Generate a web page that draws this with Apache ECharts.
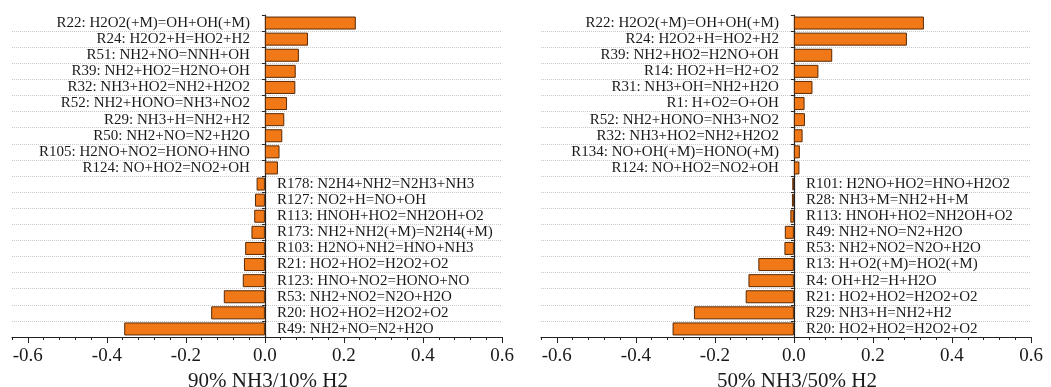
<!DOCTYPE html>
<html>
<head>
<meta charset="utf-8">
<script src="https://cdn.jsdelivr.net/npm/echarts@6/dist/echarts.min.js"></script>
<style>
  html, body { margin: 0; padding: 0; background: #fff; }
  #chart { width: 1051px; height: 387px; }
</style>
</head>
<body>
<div id="chart"></div>
<script>
// 90% NH3 / 10% H2
var reactionsA = [
    'R22: H2O2(+M)=OH+OH(+M)', 'R24: H2O2+H=HO2+H2', 'R51: NH2+NO=NNH+OH',
    'R39: NH2+HO2=H2NO+OH', 'R32: NH3+HO2=NH2+H2O2', 'R52: NH2+HONO=NH3+NO2',
    'R29: NH3+H=NH2+H2', 'R50: NH2+NO=N2+H2O', 'R105: H2NO+NO2=HONO+HNO',
    'R124: NO+HO2=NO2+OH', 'R178: N2H4+NH2=N2H3+NH3', 'R127: NO2+H=NO+OH',
    'R113: HNOH+HO2=NH2OH+O2', 'R173: NH2+NH2(+M)=N2H4(+M)', 'R103: H2NO+NH2=HNO+NH3',
    'R21: HO2+HO2=H2O2+O2', 'R123: HNO+NO2=HONO+NO', 'R53: NH2+NO2=N2O+H2O',
    'R20: HO2+HO2=H2O2+O2', 'R49: NH2+NO=N2+H2O'
];
var sensA = [0.230, 0.109, 0.086, 0.078, 0.077, 0.056, 0.049, 0.044, 0.037, 0.033,
    -0.021, -0.025, -0.027, -0.034, -0.050, -0.053, -0.056, -0.104, -0.136, -0.356];

// 50% NH3 / 50% H2
var reactionsB = [
    'R22: H2O2(+M)=OH+OH(+M)', 'R24: H2O2+H=HO2+H2', 'R39: NH2+HO2=H2NO+OH',
    'R14: HO2+H=H2+O2', 'R31: NH3+OH=NH2+H2O', 'R1: H+O2=O+OH',
    'R52: NH2+HONO=NH3+NO2', 'R32: NH3+HO2=NH2+H2O2', 'R134: NO+OH(+M)=HONO(+M)',
    'R124: NO+HO2=NO2+OH', 'R101: H2NO+HO2=HNO+H2O2', 'R28: NH3+M=NH2+H+M',
    'R113: HNOH+HO2=NH2OH+O2', 'R49: NH2+NO=N2+H2O', 'R53: NH2+NO2=N2O+H2O',
    'R13: H+O2(+M)=HO2(+M)', 'R4: OH+H2=H+H2O', 'R21: HO2+HO2=H2O2+O2',
    'R29: NH3+H=NH2+H2', 'R20: HO2+HO2=H2O2+O2'
];
var sensB = [0.329, 0.286, 0.097, 0.062, 0.047, 0.027, 0.028, 0.022, 0.015, 0.014,
    -0.004, -0.005, -0.009, -0.023, -0.024, -0.090, -0.115, -0.122, -0.253, -0.307];

var majorTicks = [-0.6, -0.4, -0.2, 0.0, 0.2, 0.4, 0.6];
var titles = ['90% NH3/10% H2', '50% NH3/50% H2'];

var serif = '"Liberation Serif", "Times New Roman", serif';
var ink = '#1a1a1a';

var chart = echarts.init(document.getElementById('chart'));

var grids = [
    { left: 12, right: 549, top: 15, bottom: 50, outerBoundsMode: 'none' },
    { left: 541, right: 20, top: 15, bottom: 50, outerBoundsMode: 'none' }
];

var xAxes = [];
var yAxes = [];
var series = [];
[[reactionsA, sensA], [reactionsB, sensB]].forEach(function (pair, g) {
    // main axis: major ticks + labels
    xAxes.push({
        type: 'value', gridIndex: g, position: 'bottom', min: -0.64, max: 0.6,
        name: titles[g], nameLocation: 'middle', nameGap: 28,
        nameTextStyle: { fontFamily: serif, fontSize: 21, color: ink, padding: [0, 0, 0, 22] },
        axisLine: { show: true, onZero: false, lineStyle: { color: '#222', width: 1.2 } },
        axisTick: { show: true, customValues: majorTicks, length: 6, lineStyle: { color: '#222' } },
        axisLabel: {
            customValues: majorTicks, margin: 10,
            fontFamily: serif, fontSize: 19, color: ink,
            formatter: function (v) { return v.toFixed(1); }
        },
        splitLine: { show: false }
    });
    // minor ticks
    xAxes.push({
        type: 'value', gridIndex: g, position: 'bottom', min: -0.64, max: 0.6, interval: 0.04,
        axisLine: { show: false, onZero: false },
        axisTick: { show: true, length: 3, lineStyle: { color: '#222' } },
        axisLabel: { show: false },
        splitLine: { show: false }
    });
    yAxes.push({
        type: 'category', gridIndex: g, inverse: true, data: pair[0],
        axisLine: { show: true, onZero: true, lineStyle: { color: '#222', width: 1.2 } },
        axisTick: { show: true, length: 3, lineStyle: { color: '#222' } },
        axisLabel: { show: false },
        splitLine: {
            show: true,
            interval: function (idx) { return idx > 0; },
            lineStyle: { color: '#c8c8c8', type: 'dotted', width: 1 }
        }
    });
    series.push({
        type: 'bar', xAxisIndex: g * 2, yAxisIndex: g,
        barWidth: 13,
        itemStyle: { color: '#F07816', borderColor: '#5a2a05', borderWidth: 1 },
        label: {
            show: true, formatter: '{b}',
            fontFamily: serif, fontSize: 15, color: ink
        },
        data: pair[1].map(function (v) {
            return {
                value: v,
                label: v >= 0 ? { position: 'left', distance: 15 } : { position: 'right', distance: 12 }
            };
        })
    });
});

chart.setOption({
    animation: false,
    grid: grids,
    xAxis: xAxes,
    yAxis: yAxes,
    series: series
});
</script>
</body>
</html>
